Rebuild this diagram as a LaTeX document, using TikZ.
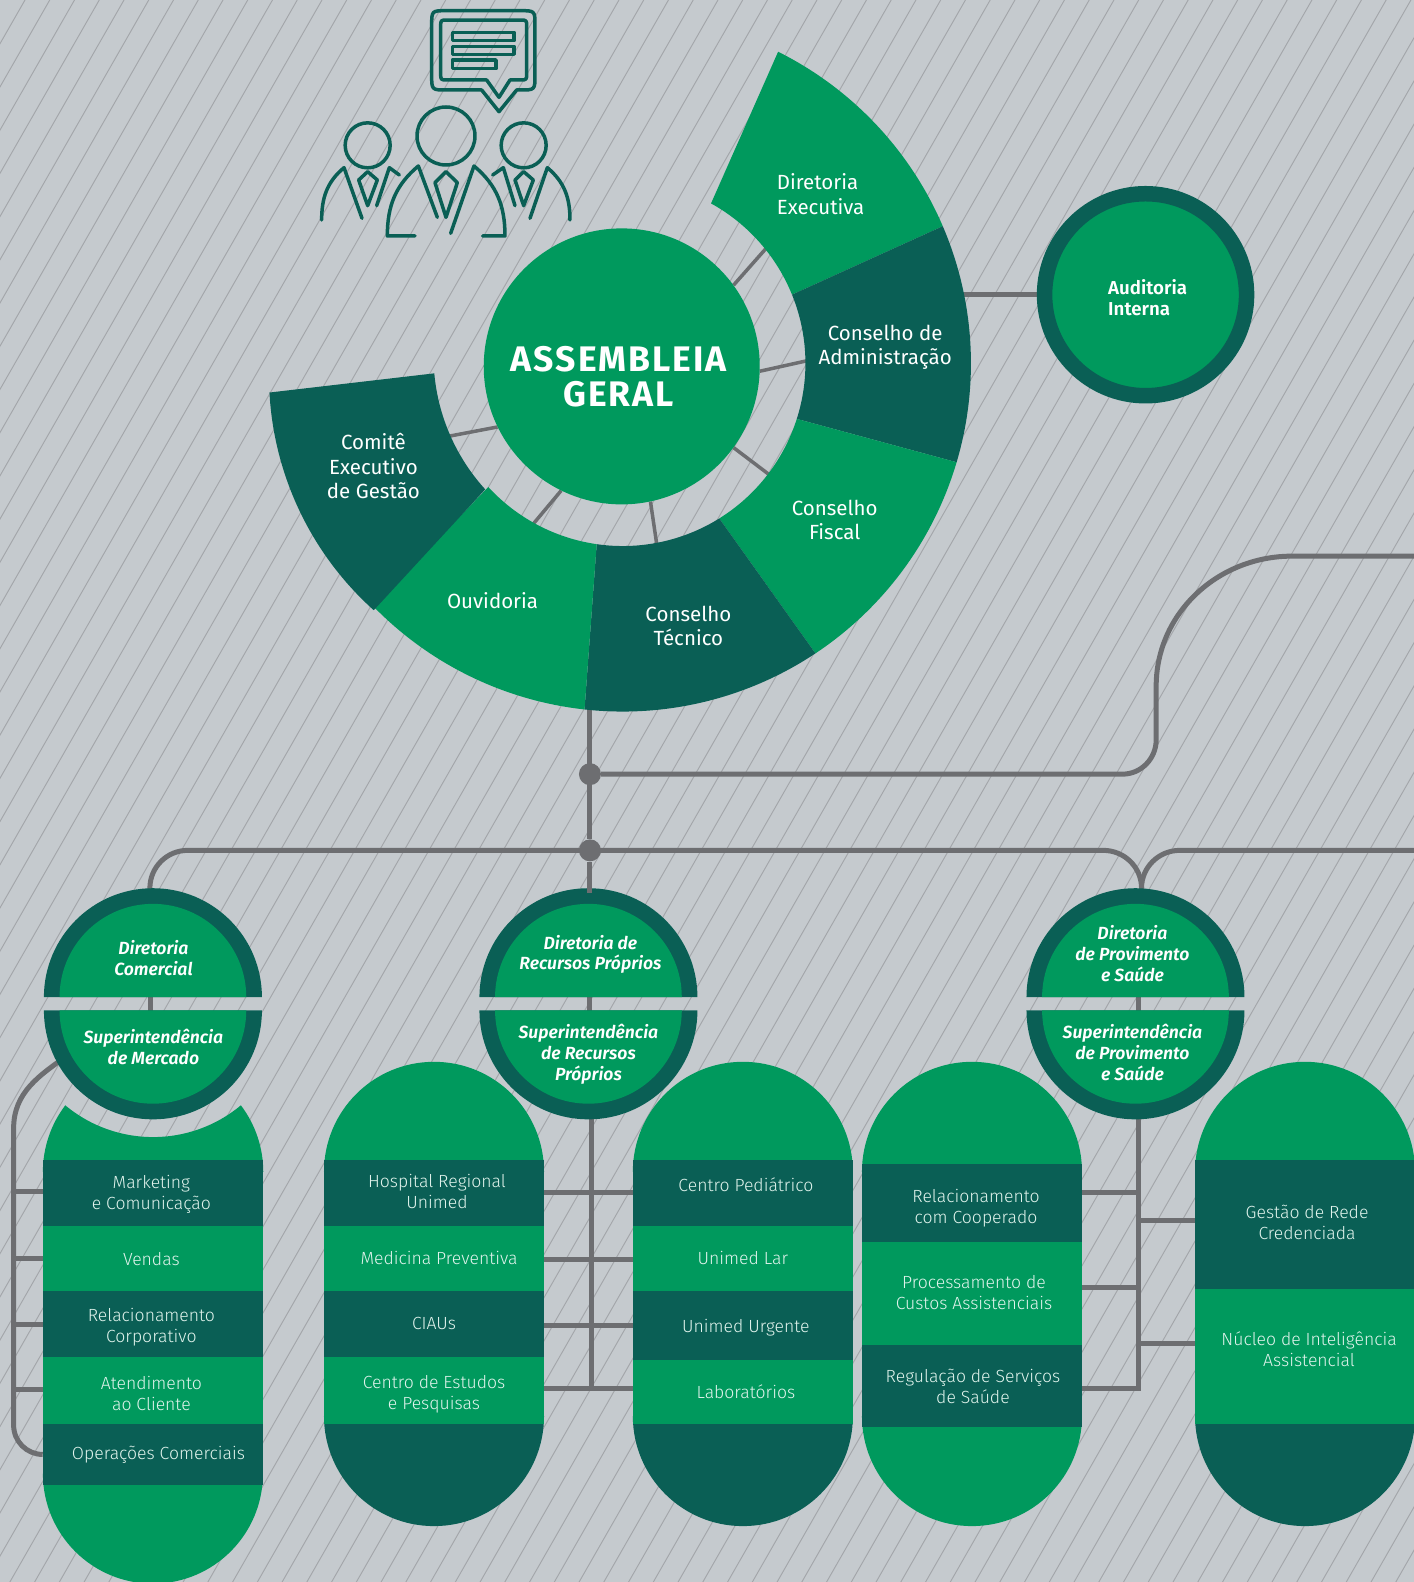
\documentclass[tikz,border=0pt]{standalone}
\usepackage{fontspec}
\setmainfont{Fira Sans Light}[BoldFont={Fira Sans SemiBold},BoldItalicFont={Fira Sans SemiBold Italic}]
\newfontfamily\ringfont{Fira Sans}
\newfontfamily\titlefont{Fira Sans}[LetterSpace=5.5]
\usetikzlibrary{calc}

\definecolor{verde}{HTML}{00995D}
\definecolor{escuro}{HTML}{0A5F55}
\definecolor{fundo}{HTML}{C5CACE}
\definecolor{risco}{HTML}{A3A6AA}
\definecolor{linha}{HTML}{6D6E71}

\pgfdeclarelayer{hatch}
\pgfdeclarelayer{links}
\pgfdeclarelayer{shapes}
\pgfsetlayers{hatch,links,shapes,main}

% one ring piece: colour, outer angles, inner angles
\newcommand{\sector}[5]{
  \fill [#1] ($(centre)+(#2:345)$) arc [start angle = #2, end angle = #3, radius = 345]
    -- ($(centre)+(#5:181)$) arc [start angle = #5, end angle = #4, radius = 181] -- cycle;
}
% half disc with its ring: x, y, start angle, end angle
\newcommand{\halfdisc}[4]{
  \fill [escuro] (#1, #2) ++(#3:108) arc [start angle = #3, end angle = #4, radius = 108] -- cycle;
  \fill [verde] (#1, #2) ++(#3:92.5) arc [start angle = #3, end angle = #4, radius = 92.5] -- cycle;
}
% pill ends: x, upper y, lower y, upper colour, lower colour
\newcommand{\pillends}[5]{
  \fill [#4] (#1, #2) ++(180:109) arc [start angle = 180, end angle = 0, radius = 109] -- cycle;
  \fill [#5] (#1, #3) ++(180:109) arc [start angle = 180, end angle = 360, radius = 109] -- cycle;
}

\begin{document}
\begin{tikzpicture}[
    x = 1.00929pt, y = 1.00929pt,
    link/.style = {draw = linha, line width = 5pt},
    dot/.style = {circle, fill = linha, inner sep = 0pt, minimum size = 22pt},
    band/.style = {inner sep = 0pt, minimum width = 220pt},
    ringlabel/.style = {text = white, align = center,
      font = \ringfont\fontsize{20.5}{24.5}\selectfont},
    bandlabel/.style = {text = white!88!verde, align = center,
      font = \fontsize{17.6}{21}\selectfont},
    disclabel/.style = {text = white, align = center,
      font = \fontsize{17.6}{20.8}\selectfont\bfseries\itshape},
    icon/.style = {draw = escuro, line width = 3.5pt, line cap = round, line join = round}
    ]

    \useasboundingbox (0, 0) rectangle (1400, -1567.4);
    \clip (-2, 2) rectangle (1402, -1570);

    \begin{pgfonlayer}{hatch}
      \fill [fundo] (-2, 2) rectangle (1402, -1570);
      \foreach \hx in {-872.93, -848.41, ..., 1420}
        \draw [risco, line width = 0.95pt] (\hx, -1567.4) -- ++(897.7, 1567.4);
    \end{pgfonlayer}

    % ring around the assembly
    \coordinate (centre) at (617, -360);
    \begin{pgfonlayer}{shapes}
      \sector{verde}{63.5}{23.2}{61.1}{22.1}
      \sector{escuro}{23.2}{-16.5}{22.1}{-17.7}
      \sector{verde}{-16.5}{-56.4}{-17.7}{-58.1}
      \sector{escuro}{-56.4}{-96.3}{-58.1}{-98.2}
      \sector{verde}{-96.3}{-135.8}{-98.2}{-137.4}
      \fill [escuro] ($(579, -372)+(-131.9:312.5)$) arc [start angle = -131.9, end angle = -176.9, radius = 312.5]
        -- ($(626.3, -352.4)+(-174.9:196.8)$) arc [start angle = -174.9, end angle = -137.7, radius = 196.8] -- cycle;
    \end{pgfonlayer}

    \node at (616, -363) [circle, fill = verde, inner sep = 0pt, minimum size = 276pt, name = hub] {};
    \node at (613, -373) [text = white, align = center, name = assembleia,
      font = \titlefont\fontsize{35.5}{35.5}\selectfont\bfseries] {ASSEMBLEIA\\GERAL};

    \node at (813, -192.5) [ringlabel, align = left, name = executiva] {Diretoria\\Executiva};
    \node at (877, -344) [ringlabel, name = administracao] {Conselho de\\Administração};
    \node at (827, -515) [ringlabel, name = fiscal] {Conselho\\Fiscal};
    \node at (682, -620) [ringlabel, name = tecnico] {Conselho\\Técnico};
    \node at (488, -595) [ringlabel, name = ouvidoria] {Ouvidoria};
    \node at (370, -462) [ringlabel, name = comite] {Comitê\\Executivo\\de Gestão};

    \node at (1135, -292) [circle, fill = verde, draw = escuro, line width = 15.5pt,
      inner sep = 0pt, minimum size = 202pt, name = auditoria] {};
    \node at (1137, -295) [align = left, text = white, name = auditoriatxt,
      font = \fontsize{18.7}{20.5}\selectfont\bfseries] {Auditoria\\Interna};

    \coordinate (spokeA) at (775, -228);
    \coordinate (spokeB) at (815, -354);
    \coordinate (spokeC) at (775, -480);
    \coordinate (spokeD) at (653, -555);
    \coordinate (spokeE) at (515, -535);
    \coordinate (spokeF) at (430, -435);
    \coordinate (audit) at (950, -292);
    \coordinate (tronco) at (584.5, -690);
    \coordinate (saidaA) at (1420, -551);
    \coordinate (saidaB) at (1420, -842.5);
    \coordinate (topoA) at (148.5, -885);
    \coordinate (topoB) at (584.5, -885);
    \coordinate (topoC) at (1131, -885);

    \node at (584.5, -767) [dot, name = noA] {};
    \node at (584.5, -842.5) [dot, name = noB] {};

    \begin{pgfonlayer}{links}
      \draw [link, line width = 3.5pt] (hub.36) -- (spokeA);
      \draw [link, line width = 3.5pt] (hub.-2) -- (spokeB);
      \draw [link, line width = 3.5pt] (hub.-36) -- (spokeC);
      \draw [link, line width = 3.5pt] (hub.-78) -- (spokeD);
      \draw [link, line width = 3.5pt] (hub.-116.6) -- (spokeE);
      \draw [link, line width = 3.5pt] (hub.-154) -- (spokeF);
      \draw [link] (audit) -- (auditoria);
      \draw [link] (tronco) -- (noB);
      \draw [link] (noA) -- (1112, -767) to [out = 0, in = -90] (1145.5, -733)
        -- (1145.5, -680) to [out = 90, in = 180] (1280, -551) -- (saidaA);
      \draw [link] (topoA) -- (148.5, -880) to [out = 90, in = 180] (186, -842.5)
        -- (1093, -842.5) to [out = 0, in = 90] (1131, -880) -- (topoC);
      \draw [link] (topoC) -- (1131, -880) to [out = 90, in = 180] (1169, -842.5) -- (saidaB);
    \end{pgfonlayer}
    \draw [link] (noB) -- (topoB);

    % directors and superintendents
    \begin{pgfonlayer}{shapes}
      \halfdisc{151.5}{-988}{180}{0}
      \halfdisc{151.5}{-1001}{180}{360}
      \halfdisc{583}{-988}{180}{0}
      \halfdisc{583}{-1001}{180}{360}
      \halfdisc{1125}{-988}{180}{0}
      \halfdisc{1125}{-1001}{180}{360}
    \end{pgfonlayer}

    \node at (152, -949.5) [disclabel, name = dirA] {Diretoria\\Comercial};
    \node at (152, -1037) [disclabel, name = supA] {Superintendência\\de Mercado};
    \node at (585, -945.5) [disclabel, name = dirB] {Diretoria de\\Recursos Próprios};
    \node at (583, -1044.5) [disclabel, name = supB] {Superintendência\\de Recursos\\Próprios};
    \node at (1122, -945) [disclabel, name = dirC] {Diretoria\\de Provimento\\e Saúde};
    \node at (1122, -1043) [disclabel, name = supC] {Superintendência\\de Provimento\\e Saúde};

    % pills
    \begin{pgfonlayer}{shapes}
      \fill [verde] (42.5, -1161) arc [start angle = 180, end angle = 142.8, radius = 109]
        arc [start angle = -129.8, end angle = -50.2, radius = 135.9]
        arc [start angle = 37.2, end angle = 0, radius = 109] -- cycle;
      \fill [verde] (42.5, -1460) arc [start angle = 180, end angle = 360, radius = 109] -- cycle;
      \pillends{430}{-1161}{-1403}{verde}{escuro}
      \pillends{736}{-1161}{-1403}{verde}{escuro}
      \pillends{963}{-1161}{-1403}{verde}{verde}
      \pillends{1293}{-1161}{-1403}{verde}{escuro}
    \end{pgfonlayer}

    \foreach \bx/\by/\bh/\cor/\nome in {
        151.5/1182/65/escuro/bandaA, 151.5/1247/65/verde/bandaB, 151.5/1312/65/escuro/bandaC,
        151.5/1377.5/66/verde/bandaD, 151.5/1441/60/escuro/bandaE,
        430/1182/65/escuro/bandaF, 430/1247/65/verde/bandaG, 430/1312/65/escuro/bandaH,
        430/1377.5/66/verde/bandaI,
        736/1182/65/escuro/bandaJ, 736/1247/65/verde/bandaK, 736/1313.5/68/escuro/bandaL,
        736/1379/63/verde/bandaM,
        963/1192/77/escuro/bandaN, 963/1281.5/102/verde/bandaO, 963/1373/81/escuro/bandaP,
        1293/1213/128/escuro/bandaQ, 1293/1344/134/verde/bandaR} {
      \begin{pgfonlayer}{shapes}
        \node at (\bx, -\by) [band, fill = \cor, minimum height = \bh*1.00929, name = \nome] {};
      \end{pgfonlayer}
    }

    \node at (150, -1183) [bandlabel, name = txtA] {Marketing\\e Comunicação};
    \node at (150, -1247) [bandlabel, name = txtB] {Vendas};
    \node at (150, -1315) [bandlabel, name = txtC] {Relacionamento\\Corporativo};
    \node at (150, -1381) [bandlabel, name = txtD] {Atendimento\\ao Cliente};
    \node at (157, -1441) [bandlabel, name = txtE] {Operações Comerciais};
    \node at (433, -1180) [bandlabel, name = txtF] {Hospital Regional\\Unimed};
    \node at (435, -1246) [bandlabel, name = txtG] {Medicina Preventiva};
    \node at (430, -1311) [bandlabel, name = txtH] {CIAUs};
    \node at (430, -1381) [bandlabel, name = txtI] {Centro de Estudos\\e Pesquisas};
    \node at (739, -1174) [bandlabel, name = txtJ] {Centro Pediátrico};
    \node at (736, -1246) [bandlabel, name = txtK] {Unimed Lar};
    \node at (739, -1315) [bandlabel, name = txtL] {Unimed Urgente};
    \node at (739, -1379) [bandlabel, name = txtM] {Laboratórios};
    \node at (967, -1197) [bandlabel, name = txtN] {Relacionamento\\com Cooperado};
    \node at (965, -1281) [bandlabel, name = txtO] {Processamento de\\Custos Assistenciais};
    \node at (964, -1374) [bandlabel, name = txtP] {Regulação de Serviços\\de Saúde};
    \node at (1295, -1211) [bandlabel, name = txtQ] {Gestão de Rede\\Credenciada};
    \node at (1297, -1337) [bandlabel, name = txtR] {Núcleo de Inteligência\\Assistencial};

    % connectors behind the pills
    \coordinate (troncoA) at (149, -985);
    \coordinate (baseA) at (149, -1005);
    \coordinate (troncoB) at (584.5, -985);
    \coordinate (baseB) at (584.5, -1005);
    \coordinate (troncoC) at (1127.5, -985);
    \coordinate (baseC) at (1127.5, -1005);
    \coordinate (descidaB) at (586, -1100);
    \coordinate (fimB) at (586, -1376);
    \coordinate (descidaC) at (1127.5, -1100);
    \coordinate (fimC) at (1127.5, -1378.5);
    \coordinate (ramoA) at (68, -1045);

    \begin{pgfonlayer}{links}
      \draw [link] (troncoA) -- (baseA);
      \draw [link] (troncoB) -- (baseB);
      \draw [link] (troncoC) -- (baseC);
      \draw [link] (ramoA) to [out = 215, in = 90] (13.5, -1118)
        -- (13.5, -1412) to [out = -90, in = 180] (bandaE.west);
      \foreach \ly in {1180, 1247, 1312, 1377} {
        \coordinate (derivA) at (13.5, -\ly);
        \draw [link] (derivA) -- (derivA -| bandaA.west);
      }
      \draw [link] (descidaB) -- (fimB);
      \foreach \ly in {1181.7, 1248, 1313, 1376} {
        \coordinate (derivB) at (586, -\ly);
        \draw [link] (derivB -| bandaF.east) -- (derivB -| bandaJ.west);
      }
      \draw [link] (descidaC) -- (fimC);
      \foreach \ly in {1181.7, 1276, 1376} {
        \coordinate (derivC) at (1127.5, -\ly);
        \draw [link] (derivC) -- (derivC -| bandaN.east);
      }
      \foreach \ly in {1209.5, 1331} {
        \coordinate (derivD) at (1127.5, -\ly);
        \draw [link] (derivD) -- (derivD -| bandaQ.west);
      }
    \end{pgfonlayer}

    % people with speech bubble
    \begin{scope}[shift = {(297.24, 0)}, x = 0.3333pt, y = -0.3333pt]
      \draw [icon] (597, 335) -- (650, 270) -- (660, 270) .. controls (705, 270) .. (705, 225)
        -- (705, 77) .. controls (705, 32) .. (660, 32) -- (440, 32) .. controls (395, 32) .. (395, 77)
        -- (395, 225) .. controls (395, 270) .. (440, 270) -- (545, 270) -- cycle;
      \draw [icon] (597, 292) -- (630, 240) -- (660, 240) .. controls (680, 240) .. (680, 220)
        -- (680, 80) .. controls (680, 60) .. (660, 60) -- (442, 60) .. controls (422, 60) .. (422, 80)
        -- (422, 220) .. controls (422, 240) .. (442, 240) -- (560, 240) -- cycle;
      \draw [icon, line cap = butt] (457, 97) rectangle (642, 122);
      \draw [icon, line cap = butt] (457, 139) rectangle (642, 163);
      \draw [icon, line cap = butt] (457, 180) rectangle (588, 206);
      \draw [icon] (203, 436) circle [radius = 22.5pt];
      \draw [icon] (438, 408) circle [radius = 29pt];
      \draw [icon] (671, 436) circle [radius = 22.5pt];
      \draw [icon] (65, 660) to [out = 90, in = 220] (132, 503) -- (186, 655);
      \draw [icon] (298, 525) -- (268, 503) -- (230, 617);
      \draw [icon] (203, 515) -- (232, 540) -- (203, 617) -- (176, 540) -- cycle;
      \draw [icon] (345, 708) -- (262, 708) to [out = 90, in = 220] (355, 498) -- (412, 652);
      \draw [icon] (438, 515) -- (472, 548) -- (438, 652) -- (405, 548) -- cycle;
      \draw [icon] (452, 700) -- (522, 498) to [out = -40, in = 90] (615, 708) -- (548, 708);
      \draw [icon] (578, 525) -- (610, 503) -- (645, 617);
      \draw [icon] (671, 515) -- (700, 540) -- (671, 617) -- (645, 540) -- cycle;
      \draw [icon] (690, 655) -- (742, 503) to [out = -40, in = 90] (810, 660);
    \end{scope}

  \end{tikzpicture}
\end{document}
